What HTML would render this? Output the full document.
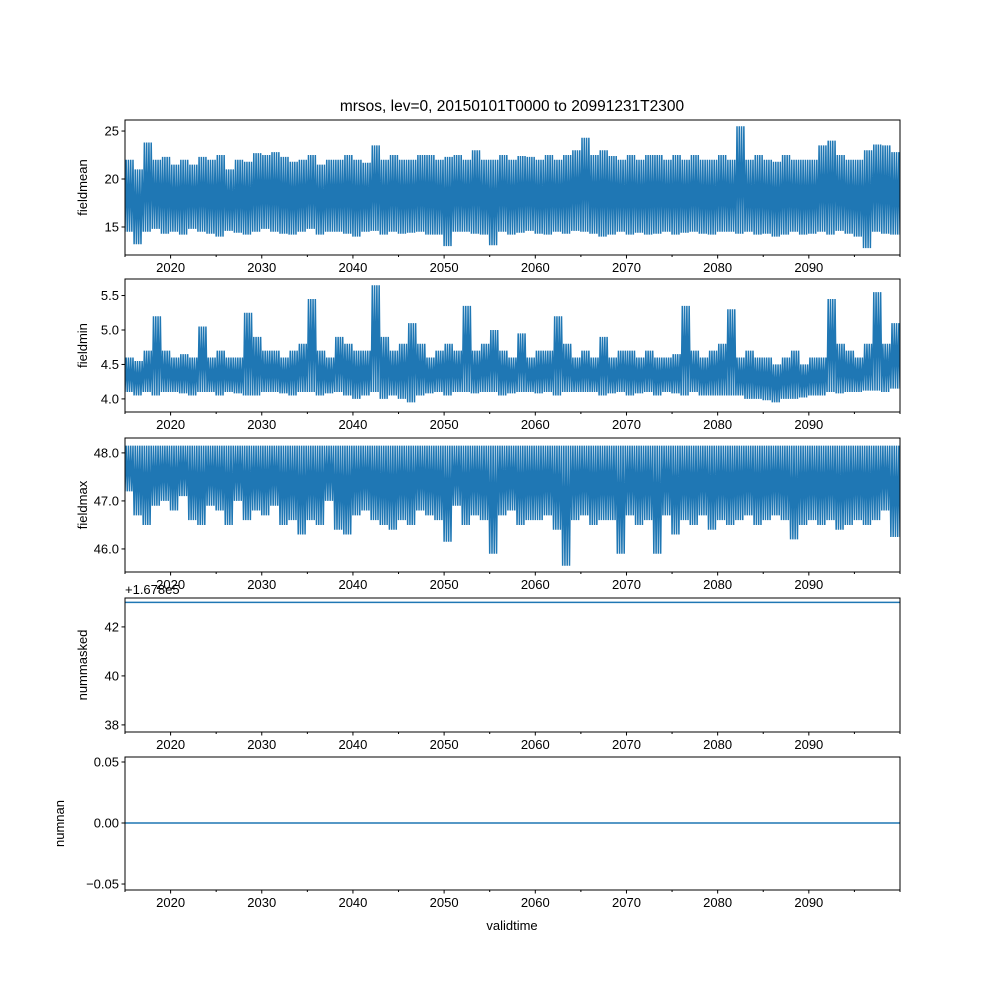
<!DOCTYPE html>
<html><head><meta charset="utf-8"><style>
body{margin:0;background:#fff;}
svg text{font-family:"Liberation Sans","DejaVu Sans",sans-serif;font-size:13px;fill:#000;}
</style></head><body>
<svg id="chart" width="1000" height="1000" xmlns="http://www.w3.org/2000/svg">
<rect width="1000" height="1000" fill="#fff"/>
<text x="512" y="111" text-anchor="middle" style="font-size:15.5px">mrsos, lev=0, 20150101T0000 to 20991231T2300</text>
<text x="512" y="930" text-anchor="middle">validtime</text>
</svg>
<script>
const years = [];
for (let y = 2015; y <= 2099; y++) years.push(y);
const xTicks = [2020,2030,2040,2050,2060,2070,2080,2090];
const meanHi = [22,21,23.8,22,22.3,21.5,22,21.5,22.3,22, 22.5,21,22,21.8,22.7,22.5,22.8,22.3,21.8,22, 22.5,21.5,22,22,22.5,22,21.7,23.5,22,22.5, 22,22,22.5,22.5,22,22.3,22.5,22,23,22, 22,22.5,22,22.4,22.3,22,22.5,22,22.5,23, 24.3,22.5,23,22.4,22,22.5,22,22.5,22.5,22, 22.5,22,22.5,22,22,22.5,22,25.5,22,22.5, 22,21.8,22.5,22,22,22,23.5,24,22.5,22, 22,23,23.6,23.5,22.8];
const meanLo = [14.5,13.2,14.5,14.8,14.3,14.5,14.2,14.8,14.5,14.3, 14,14.6,14.4,14.2,14.5,14.8,14.5,14.3,14.2,14.5, 14.8,14.2,14.5,14.5,14.3,14,14.5,14.6,14.2,14.5, 14.3,14.4,14.5,14.2,14.2,13,14.5,14.5,14.3,14.2, 13.1,14.5,14.2,14.4,14.6,14.3,14.2,14.5,14.3,14.6, 14.5,14.3,14,14.2,14.5,14.2,14.4,14.2,14.3,14.5, 14.2,14.4,14.5,14.3,14.2,14.5,14.5,14.3,14.5,14.2, 14.3,14,14.2,14.5,14.2,14.3,14.5,14.2,14.6,14.3, 14,12.8,14.5,14.3,14.2];
const minHi = [4.6,4.55,4.7,5.2,4.7,4.6,4.65,4.6,5.05,4.6, 4.7,4.6,4.6,5.25,4.9,4.7,4.7,4.6,4.7,4.8, 5.45,4.7,4.6,4.9,4.8,4.7,4.7,5.65,4.9,4.7, 4.8,5.1,4.8,4.6,4.7,4.8,4.7,5.35,4.7,4.8, 5.0,4.7,4.6,4.95,4.6,4.7,4.7,5.2,4.8,4.6, 4.7,4.6,4.9,4.6,4.7,4.7,4.6,4.7,4.6,4.6, 4.65,5.35,4.7,4.6,4.7,4.8,5.3,4.6,4.7,4.6, 4.6,4.5,4.6,4.7,4.5,4.6,4.6,5.45,4.8,4.7, 4.6,4.8,5.55,4.8,5.1];
const minLo = [4.1,4.05,4.1,4.05,4.1,4.1,4.08,4.05,4.1,4.1, 4.05,4.1,4.08,4.05,4.05,4.1,4.1,4.08,4.05,4.1, 4.1,4.05,4.08,4.1,4.05,4.0,4.05,4.1,4.0,4.05, 4.0,3.95,4.05,4.08,4.1,4.05,4.1,4.1,4.08,4.1, 4.1,4.05,4.08,4.1,4.1,4.08,4.1,4.05,4.1,4.1, 4.1,4.1,4.05,4.08,4.1,4.05,4.08,4.1,4.05,4.1, 4.08,4.05,4.1,4.05,4.05,4.05,4.05,4.05,4.0,4.0, 3.98,3.95,4.0,4.0,4.02,4.05,4.05,4.1,4.08,4.1, 4.1,4.12,4.12,4.1,4.15];
const maxHi = years.map(() => 48.15);
const maxLo = [47.2,46.7,46.5,46.9,47,46.8,47.1,46.6,46.5,46.9, 46.8,46.5,47,46.6,46.8,46.7,46.9,46.5,46.6,46.3, 46.6,46.5,47,46.4,46.3,46.7,46.8,46.6,46.5,46.4, 46.6,46.5,46.8,46.7,46.6,46.15,46.9,46.5,46.7,46.6, 45.9,46.7,46.8,46.5,46.6,46.6,46.7,46.4,45.65,46.6, 46.7,46.5,46.6,46.6,45.9,46.7,46.5,46.6,45.9,46.7, 46.3,46.6,46.5,46.7,46.4,46.6,46.5,46.6,46.7,46.5, 46.6,46.7,46.6,46.2,46.5,46.6,46.5,46.6,46.4,46.5, 46.6,46.5,46.6,46.8,46.25];
const maskedVals = years.map(() => 43);
const nanVals = years.map(() => 0);

const svg = document.getElementById('chart');
const NS = 'http://www.w3.org/2000/svg';
const X0 = 125, X1 = 900, T0 = 2015, T1 = 2100;
const xs = t => X0 + (t - T0) / (T1 - T0) * (X1 - X0);
function mk(tag, attrs, parent) {
  const e = document.createElementNS(NS, tag);
  for (const k in attrs) e.setAttribute(k, attrs[k]);
  (parent || svg).appendChild(e);
  return e;
}
function panel(name, top, bot, ymin, ymax, yt, ylab, hi, lo, offset) {
  const ys = v => bot - (v - ymin) / (ymax - ymin) * (bot - top);
  const g = mk('g', {});
  
  
  let d = '';
  const sub = 8;
  years.forEach((y, i) => {
    for (let k = 0; k < sub; k++) {
      const t = y + k / sub;
      const v = (k % 2 === 0) ? lo[i] : hi[i];
      d += (d ? 'L' : 'M') + xs(t).toFixed(2) + ',' + ys(v).toFixed(2);
    }
  });
  d += 'L' + X1 + ',' + ys(lo[lo.length - 1]).toFixed(2);
  const p = mk('path', {d: d, fill: 'none', stroke: '#1f77b4', 'stroke-width': 1.5, 'clip-path': 'url(#clip-' + name + ')'}, g);
  
  
  const cp = mk('clipPath', {id: 'clip-' + name}, g);
  mk('rect', {x: X0, y: top, width: X1 - X0, height: bot - top}, cp);
  const fr = mk('rect', {x: X0, y: top, width: X1 - X0, height: bot - top, fill: 'none', stroke: '#000', 'stroke-width': 1}, g);
  
  
  yt.forEach(v => {
    const yy = ys(v);
    mk('line', {x1: X0 - 3.5, x2: X0, y1: yy, y2: yy, stroke: '#000'}, g);
    const tx = mk('text', {x: X0 - 6, y: yy + 4.5, 'text-anchor': 'end'}, g);
    
    
    tx.textContent = offset ? String(v) : (Number.isInteger(v) && ymax - ymin > 3 ? String(v) : v.toFixed(ymax - ymin < 1 ? 2 : 1));
  });
  for (let t = 2015; t <= 2100; t += 5) {
    const major = t % 10 === 0 && t < 2100;
    mk('line', {x1: xs(t), x2: xs(t), y1: bot, y2: bot + (major ? 3.5 : 2), stroke: '#000'}, g);
  }
  xTicks.forEach(t => {
    const tx = mk('text', {x: xs(t), y: bot + 17, 'text-anchor': 'middle'}, g);
    
    
    tx.textContent = t;
  });
  const yl = mk('text', {x: 0, y: 0, 'text-anchor': 'middle', transform: 'translate(' + (X0 - (ylab === 'numnan' ? 61 : 38)) + ',' + ((top + bot) / 2) + ') rotate(-90)'}, g);
  
  
  yl.textContent = ylab;
  if (offset) {
    const ot = mk('text', {x: X0, y: top - 4}, g);
    
    
    ot.textContent = offset;
  }
}
panel('fieldmean', 120, 255, 12.08, 26.15, [15, 20, 25], 'fieldmean', meanHi, meanLo);
panel('fieldmin', 279, 412, 3.81, 5.74, [4.0, 4.5, 5.0, 5.5], 'fieldmin', minHi, minLo);
panel('fieldmax', 438, 572, 45.52, 48.31, [46, 47, 48], 'fieldmax', maxHi, maxLo);
panel('nummasked', 598, 732, 37.71, 43.18, [38, 40, 42], 'nummasked', maskedVals, maskedVals, '+1.678e5');
panel('numnan', 757, 890, -0.0549, 0.0541, [-0.05, 0, 0.05], 'numnan', nanVals, nanVals);
document.querySelectorAll('text').forEach(t => {
  if (t.textContent === '-0.05') t.textContent = '\u22120.05';
});
</script>
</body></html>
